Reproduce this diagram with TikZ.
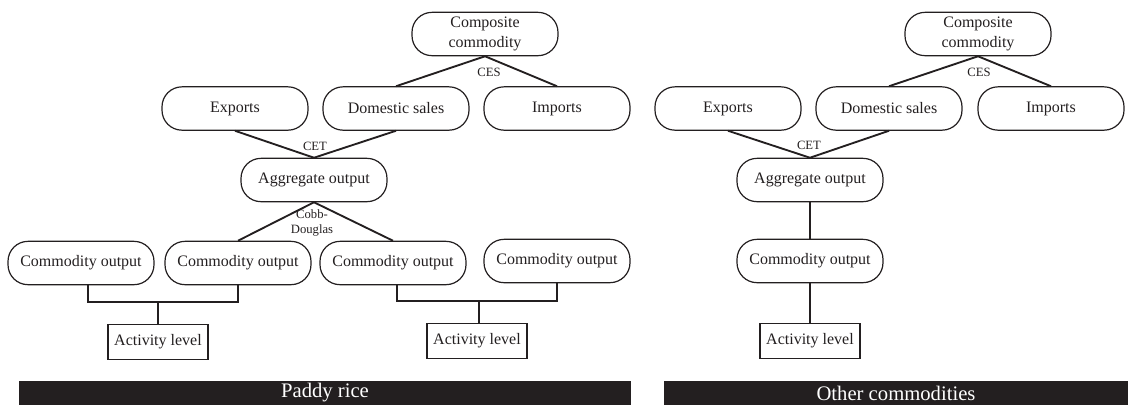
\documentclass[tikz,border=0pt]{standalone}
\usepackage{fontspec}
\setmainfont{Liberation Serif}
\definecolor{bardark}{HTML}{231F20}
\definecolor{ink}{HTML}{231F20}
\begin{document}
\begin{tikzpicture}[x=0.75pt,y=-0.75pt,
  pill/.style={draw=ink,line width=0.9pt,rounded corners=15pt,minimum width=109.5pt,minimum height=32.5pt,inner sep=1pt,align=center,font=\fontsize{12}{14.5}\selectfont,text=ink},
  actbox/.style={draw=ink,line width=0.9pt,minimum width=75pt,minimum height=26.5pt,inner sep=1pt,font=\fontsize{12}{14.5}\selectfont,text=ink},
  conn/.style={draw=ink,line width=1.4pt},
  elab/.style={font=\fontsize{9.5}{11}\selectfont,text=ink,inner sep=0pt,align=center},
  bar/.style={fill=bardark,draw=none},
  bartext/.style={text=white,font=\fontsize{15.5}{17}\selectfont,inner sep=0pt}]
\useasboundingbox (0,0) rectangle (1128,405);
% ---------------- Left: Paddy rice ----------------
\node[pill] (compL) at (485,34) {Composite\\commodity};
\node[pill] (expL) at (235,108.5) {Exports};
\node[pill] (domL) at (396,108.5) {Domestic sales};
\node[pill] (impL) at (557,108.5) {Imports};
\node[pill] (aggL) at (314,180) {Aggregate output};
\node[pill] (co1) at (81,263) {Commodity output};
\node[pill] (co2) at (238,263) {Commodity output};
\node[pill] (co3) at (393,263) {Commodity output};
\node[pill] (co4) at (557,261) {Commodity output};
\node[actbox] (act1) at (158,342) {Activity level};
\node[actbox] (act2) at (477,341) {Activity level};
\coordinate (jn1) at (158,302);
\coordinate (jn2) at (479,301);

\draw[conn] (compL.south) -- (domL.north);
\draw[conn] (compL.south) -- (impL.north);
\draw[conn] (expL.south) -- (aggL.north);
\draw[conn] (domL.south) -- (aggL.north);
\draw[conn] (aggL.south) -- (co2.north);
\draw[conn] (aggL.south) -- (co3.north);
\draw[conn] ([xshift=5.25pt]co1.south) -- ([xshift=5.25pt]co1.south |- jn1) -- (co2.south |- jn1) -- (co2.south);
\draw[conn] (jn1) -- (jn1 |- act1.north);
\draw[conn] ([xshift=3pt]co3.south) -- ([xshift=3pt]co3.south |- jn2) -- (co4.south |- jn2) -- (co4.south);
\draw[conn] (jn2) -- (jn2 |- act2.north);

\node[elab] (cesL) at (489,72) {CES};
\node[elab] (cetL) at (315,146) {CET};
\node[elab] (cdL) at (312,223) {Cobb-\\Douglas};

\path[bar] (19,381) rectangle (631,405);
\node[bartext] (paddy) at (325,393) {Paddy rice};

% ---------------- Right: Other commodities ----------------
\node[pill] (compR) at (978,34) {Composite\\commodity};
\node[pill] (expR) at (728,108.5) {Exports};
\node[pill] (domR) at (889,108.5) {Domestic sales};
\node[pill] (impR) at (1051,108.5) {Imports};
\node[pill] (aggR) at (810,180) {Aggregate output};
\node[pill] (coR) at (810,261) {Commodity output};
\node[actbox] (actR) at (810,341) {Activity level};

\draw[conn] (compR.south) -- (domR.north);
\draw[conn] (compR.south) -- (impR.north);
\draw[conn] (expR.south) -- (aggR.north);
\draw[conn] (domR.south) -- (aggR.north);
\draw[conn] (aggR.south) -- (coR.north);
\draw[conn] (coR.south) -- (actR.north);

\node[elab] (cesR) at (979,72) {CES};
\node[elab] (cetR) at (809,145) {CET};

\path[bar] (664,381) rectangle (1128,405);
\node[bartext] (other) at (896,393) {Other commodities};
\end{tikzpicture}
\end{document}
